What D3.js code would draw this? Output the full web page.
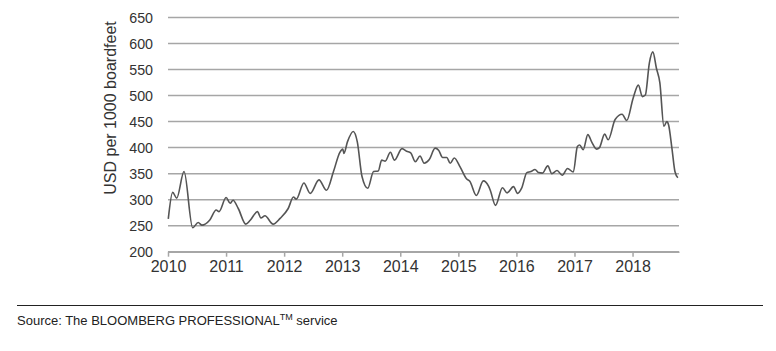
<!DOCTYPE html>
<html>
<head>
<meta charset="utf-8">
<script src="https://cdn.jsdelivr.net/npm/d3@7"></script>
<style>
  body { margin: 0; background: #fff; }
  svg { display: block; font-family: "Liberation Sans", Arial, sans-serif; }
</style>
</head>
<body>
<div id="chart"></div>
<script>
// lumber price, USD per 1000 board feet, time in decimal years
const dates = [
  2010.005, 2010.08, 2010.15, 2010.276, 2010.425, 2010.52, 2010.585, 2010.72, 2010.83, 2010.88,
  2011.0, 2011.07, 2011.12, 2011.21, 2011.34, 2011.42, 2011.54, 2011.60, 2011.67, 2011.81, 2011.93,
  2012.07, 2012.16, 2012.21, 2012.34, 2012.45, 2012.60, 2012.73, 2012.85, 2012.96,
  2013.01, 2013.03, 2013.09, 2013.19, 2013.26, 2013.34, 2013.44, 2013.54, 2013.62, 2013.68, 2013.74, 2013.83, 2013.90,
  2014.03, 2014.11, 2014.18, 2014.26, 2014.34, 2014.41, 2014.50, 2014.60, 2014.66, 2014.73, 2014.80, 2014.86, 2014.93,
  2015.03, 2015.14, 2015.20, 2015.31, 2015.43, 2015.52, 2015.55, 2015.64, 2015.76, 2015.84, 2015.95,
  2016.02, 2016.09, 2016.18, 2016.25, 2016.32, 2016.38, 2016.45, 2016.54, 2016.61, 2016.70, 2016.79, 2016.88, 2016.98,
  2017.05, 2017.09, 2017.15, 2017.23, 2017.30, 2017.38, 2017.43, 2017.52, 2017.58, 2017.70, 2017.82, 2017.90,
  2018.01, 2018.10, 2018.17, 2018.22, 2018.29, 2018.35, 2018.41, 2018.47, 2018.54, 2018.59, 2018.62, 2018.68, 2018.73, 2018.78
];
const prices = [
  263, 314, 303, 354, 246, 256, 251, 261, 280, 277,
  304, 293, 299, 283, 253, 261, 277, 265, 269, 253, 264,
  283, 305, 301, 332, 312, 338, 318, 354, 391,
  397, 389, 411, 431, 411, 345, 322, 354, 355, 376, 374, 391, 376,
  398, 393, 390, 373, 384, 370, 377, 399, 395, 381, 381, 370, 380,
  363, 340, 335, 308, 336, 326, 318, 289, 323, 313, 325,
  312, 322, 352, 354, 358, 352, 351, 365, 350, 356, 347, 360, 353,
  402, 405, 396, 425, 410, 397, 400, 426, 415, 454, 464, 452,
  495, 520, 498, 501, 563, 584, 553, 525, 441, 450, 444, 397, 354, 342
];
const yearTicks = [2010, 2011, 2012, 2013, 2014, 2015, 2016, 2017, 2018];
const valueTicks = [200, 250, 300, 350, 400, 450, 500, 550, 600, 650];

const W = 776, H = 351;
const svg = d3.select("#chart").append("svg")
    .attr("width", W)
    .attr("height", H);

const x = d3.scaleLinear().domain([2010, 2018.8]).range([168, 679]);
const y = d3.scaleLinear().domain([200, 650]).range([251.7, 17.5]);

// horizontal gridlines
svg.append("g")
    .selectAll("line")
    .data(valueTicks)
    .enter().append("line")
    .attr("x1", x.range()[0])
    .attr("x2", x.range()[1])
    .attr("y1", d => y(d))
    .attr("y2", d => y(d))
    .attr("stroke", "#a6a6a6")
    .attr("stroke-width", 1.5);

// y labels (slightly condensed, like the original)
svg.append("g")
    .selectAll("text")
    .data(valueTicks)
    .enter().append("text")
    .attr("transform", d => `translate(153,${y(d)}) scale(0.92,1)`)
    .attr("dy", "0.36em")
    .attr("text-anchor", "end")
    .attr("fill", "#333")
    .style("font-size", "15.5px")
    .text(d => d);

// x axis
const xAxis = svg.append("g")
    .attr("transform", `translate(0,${y(200)})`)
    .call(d3.axisBottom(x).tickValues(yearTicks).tickFormat(d3.format("d")).tickSize(5).tickSizeOuter(0));
xAxis.select(".domain").attr("stroke", "#a6a6a6").attr("stroke-width", 1.5);
xAxis.selectAll(".tick line").attr("stroke", "#a6a6a6").attr("stroke-width", 1.5);
xAxis.selectAll(".tick text")
    .attr("fill", "#333")
    .attr("y", 9)
    .style("font-size", "16px")
    .style("font-family", "\"Liberation Sans Narrow\", \"Arial Narrow\", \"Liberation Sans\", sans-serif");

// the price line
const line = d3.line()
    .x((d, i) => x(dates[i]))
    .y(d => y(d))
    .curve(d3.curveMonotoneX);

svg.append("path")
    .datum(prices)
    .attr("fill", "none")
    .attr("stroke", "#555")
    .attr("stroke-width", 1.6)
    .attr("d", line);

// y-axis title
svg.append("text")
    .attr("transform", "translate(116,108) rotate(-90)")
    .attr("text-anchor", "middle")
    .attr("fill", "#333")
    .style("font-size", "16px")
    .text("USD per 1000 boardfeet");

// source rule and note
svg.append("line")
    .attr("x1", 17).attr("x2", 763)
    .attr("y1", 305.5).attr("y2", 305.5)
    .attr("stroke", "#222")
    .attr("stroke-width", 1);

const src = svg.append("text")
    .attr("x", 17)
    .attr("y", 325)
    .attr("fill", "#222")
    .style("font-size", "13px");
src.append("tspan").text("Source: The BLOOMBERG PROFESSIONAL");
src.append("tspan").attr("dy", -5).style("font-size", "9px").text("TM");
src.append("tspan").attr("dy", 5).text(" service");
</script>
</body>
</html>
